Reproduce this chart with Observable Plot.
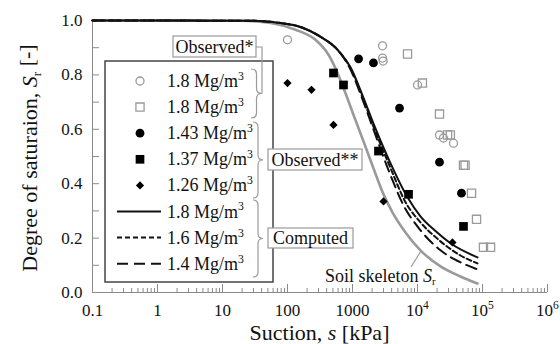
<!DOCTYPE html>
<html><head><meta charset="utf-8">
<script src="https://cdn.jsdelivr.net/npm/d3@7"></script>
<script src="https://cdn.jsdelivr.net/npm/@observablehq/plot@0.6"></script>
<style>
body{margin:0;background:#fff}
#chart svg, #chart svg text{font-family:"Liberation Serif","Times New Roman",serif;}
</style></head><body><div id="chart"></div>
<script>
// ---------- axis ticks ----------
const xTicks = [0.1, 1, 10, 100, 1000, 1e4, 1e5, 1e6];
const xTickLabels = ["0.1", "1", "10", "100", "1000", "10^4", "10^5", "10^6"];
const yTicks = [0, 0.2, 0.4, 0.6, 0.8, 1.0];
const yMinorTicks = [0, 0.1, 0.2, 0.3, 0.4, 0.5, 0.6, 0.7, 0.8, 0.9, 1.0];

// ---------- legend labels ----------
const legendLabels = ["1.8 Mg/m^3", "1.8 Mg/m^3", "1.43 Mg/m^3", "1.37 Mg/m^3", "1.26 Mg/m^3", "1.8 Mg/m^3", "1.6 Mg/m^3", "1.4 Mg/m^3"];
const groupLabels = ["Observed*", "Observed**", "Computed"];

// ---------- observed data (suction kPa, Sr) ----------
const obsOpenCircleS  = [100, 2900, 2900, 2960, 10000, 21800, 25100, 35800];
const obsOpenCircleSr = [0.929, 0.907, 0.862, 0.851, 0.763, 0.579, 0.568, 0.549];

const obsOpenSquareS  = [7020, 11900, 21800, 29000, 32000, 51000, 54000, 67800, 80900, 103500, 133000];
const obsOpenSquareSr = [0.877, 0.770, 0.656, 0.579, 0.579, 0.468, 0.468, 0.365, 0.269, 0.166, 0.166];

const obs143S  = [1240, 2100, 5290, 21800, 47500];
const obs143Sr = [0.859, 0.844, 0.678, 0.479, 0.365];

const obs137S  = [510, 727, 2510, 7280, 51000];
const obs137Sr = [0.807, 0.763, 0.520, 0.361, 0.243];

const obs126S  = [100, 234, 510, 3000, 34500];
const obs126Sr = [0.770, 0.745, 0.616, 0.335, 0.184];

// ---------- computed curves ----------
const comp18S  = [0.1, 27, 78, 158, 324, 590, 940, 1420, 2090, 3850, 7020, 11100, 19100, 32200, 83800];
const comp18Sr = [1.0, 0.999, 0.991, 0.976, 0.940, 0.892, 0.826, 0.726, 0.623, 0.475, 0.350, 0.280, 0.225, 0.181, 0.129];

const comp16S  = [0.1, 27, 78, 158, 324, 590, 940, 1420, 2090, 3850, 6540, 11100, 22600, 45900, 83800];
const comp16Sr = [1.0, 0.999, 0.991, 0.976, 0.940, 0.892, 0.822, 0.719, 0.612, 0.457, 0.332, 0.258, 0.188, 0.136, 0.107];

const comp14S  = [0.1, 27, 78, 158, 324, 590, 940, 1420, 2090, 3580, 6090, 11100, 22600, 45900, 83800];
const comp14Sr = [1.0, 0.999, 0.991, 0.976, 0.940, 0.892, 0.818, 0.711, 0.601, 0.450, 0.321, 0.229, 0.155, 0.111, 0.085];

const skelS  = [0.1, 19, 55, 133, 270, 428, 588, 727, 1110, 1530, 2100, 2900, 4120, 6540, 11100, 22600, 45900, 83800];
const skelSr = [1.0, 0.999, 0.991, 0.966, 0.929, 0.874, 0.807, 0.752, 0.634, 0.546, 0.457, 0.369, 0.295, 0.221, 0.155, 0.096, 0.059, 0.033];

// ---------- build tables ----------
const zip = (xs, ys) => xs.map((s, i) => ({s, Sr: ys[i]}));
const openCircles = zip(obsOpenCircleS, obsOpenCircleSr);
const openSquares = zip(obsOpenSquareS, obsOpenSquareSr);
const dots143 = zip(obs143S, obs143Sr);
const dots137 = zip(obs137S, obs137Sr);
const dots126 = zip(obs126S, obs126Sr);
const c18 = zip(comp18S, comp18Sr);
const c16 = zip(comp16S, comp16Sr);
const c14 = zip(comp14S, comp14Sr);
const skel = zip(skelS, skelSr);

const xMinor = [];
for (let e = -1; e < 6; e++) for (let k = 2; k <= 9; k++) xMinor.push(k * Math.pow(10, e));

const W = 560, H = 344, mL = 92, mR = 13, mT = 20, mB = 52;
const innerW = W - mL - mR, innerH = H - mT - mB;
const GRAY = "#9a9a9a", AX = "#8a8a8a";
const FONT = "'Liberation Serif', 'Times New Roman', serif";

const R = {openC: 4, openSq: 4.6, fillC: 4.4, fillSq: 4.9, dia: 3.7};

const plot = Plot.plot({
  width: W, height: H,
  marginLeft: mL, marginRight: mR, marginTop: mT, marginBottom: mB,
  style: {fontFamily: FONT, fontSize: "17px", color: "#111", background: "#fff", overflow: "visible"},
  x: {type: "log", domain: [0.1, 1e6]},
  y: {domain: [0, 1]},
  marks: [
    Plot.ruleY([0], {stroke: AX, strokeWidth: 1}),
    Plot.ruleX([0.1], {stroke: AX, strokeWidth: 1}),
    Plot.ruleX(xMinor, {stroke: AX, strokeWidth: 1, insetTop: innerH - 4}),
    Plot.ruleX(xTicks, {stroke: AX, strokeWidth: 1, insetTop: innerH - 8}),
    Plot.ruleY(yMinorTicks, {stroke: AX, strokeWidth: 1, insetRight: innerW - 7}),
    Plot.axisX(xTicks, {tickSize: 0, tickPadding: 11, label: null, fontSize: 17, fontFamily: FONT,
      tickFormat: d => xTickLabels[xTicks.indexOf(d)]}),
    Plot.axisY(yTicks, {tickSize: 0, tickPadding: 10, label: null, fontSize: 17, fontFamily: FONT,
      tickFormat: d => d.toFixed(1)}),
    Plot.line(skel, {x: "s", y: "Sr", stroke: GRAY, strokeWidth: 2.6, curve: "monotone-x"}),
    Plot.line(c14, {x: "s", y: "Sr", stroke: "#111", strokeWidth: 2, strokeDasharray: "11,6", curve: "monotone-x"}),
    Plot.line(c16, {x: "s", y: "Sr", stroke: "#111", strokeWidth: 2, strokeDasharray: "5,3", curve: "monotone-x"}),
    Plot.line(c18, {x: "s", y: "Sr", stroke: "#111", strokeWidth: 2, curve: "monotone-x"}),
    Plot.dot(openCircles, {x: "s", y: "Sr", r: R.openC, stroke: GRAY, fill: "white", fillOpacity: 0, strokeWidth: 1.3}),
    Plot.dot(openSquares, {x: "s", y: "Sr", r: R.openSq, symbol: "square", stroke: GRAY, fill: "white", fillOpacity: 0, strokeWidth: 1.3}),
    Plot.dot(dots143, {x: "s", y: "Sr", r: R.fillC, fill: "#000", stroke: "none"}),
    Plot.dot(dots137, {x: "s", y: "Sr", r: R.fillSq, symbol: "square", fill: "#000", stroke: "none"}),
    Plot.dot(dots126, {x: "s", y: "Sr", r: R.dia, symbol: "diamond2", fill: "#000", stroke: "none"})
  ]
});
document.getElementById("chart").appendChild(plot);

const svg = d3.select(plot);

// helper: write "base^exp" as text with a raised tspan
function writeSup(sel, label, supSize, supDy) {
  const m = /^(.*)\^(\d)$/.exec(label);
  if (!m) { sel.text(label); return; }
  sel.text(m[1]);
  sel.append("tspan").attr("dy", supDy).attr("font-size", supSize).text(m[2]);
}

svg.selectAll("text").each(function() {
  const t = this.textContent;
  if (/^10\^\d$/.test(t)) writeSup(d3.select(this), t, "0.68em", "-0.55em");
});

const g = svg.append("g").attr("font-family", FONT).attr("fill", "#111");

const xt = g.append("text").attr("x", (mL + W - mR) / 2).attr("y", 340)
  .attr("text-anchor", "middle").attr("font-size", 22);
xt.append("tspan").text("Suction, ");
xt.append("tspan").attr("font-style", "italic").text("s");
xt.append("tspan").text(" [kPa]");

const yt = g.append("text").attr("transform", "translate(37,158) rotate(-90)")
  .attr("text-anchor", "middle").attr("font-size", 22);
yt.append("tspan").text("Degree of saturaion, ");
yt.append("tspan").attr("font-style", "italic").text("S");
yt.append("tspan").attr("dy", "0.3em").attr("font-size", "0.6em").text("r");
yt.append("tspan").attr("dy", "-0.3em").text(" [-]");

const lg = svg.append("g").attr("font-family", FONT).attr("text-anchor", "start");
lg.append("rect").attr("x", 105).attr("y", 61).attr("width", 168).attr("height", 221)
  .attr("fill", "white").attr("stroke", "#444").attr("stroke-width", 1.5);

const rowY = i => 81 + 26.1 * i;
const symX = 140;
const sym = (type, r) => d3.symbol(type, Math.PI * r * r)();
lg.append("path").attr("d", sym(d3.symbolCircle, R.openC)).attr("transform", `translate(${symX},${rowY(0)})`)
  .attr("fill", "none").attr("stroke", GRAY).attr("stroke-width", 1.3);
lg.append("path").attr("d", sym(d3.symbolSquare, R.openSq)).attr("transform", `translate(${symX},${rowY(1)})`)
  .attr("fill", "none").attr("stroke", GRAY).attr("stroke-width", 1.3);
lg.append("path").attr("d", sym(d3.symbolCircle, R.fillC)).attr("transform", `translate(${symX},${rowY(2)})`)
  .attr("fill", "#000");
lg.append("path").attr("d", sym(d3.symbolSquare, R.fillSq)).attr("transform", `translate(${symX},${rowY(3)})`)
  .attr("fill", "#000");
lg.append("path").attr("d", sym(d3.symbolDiamond2, R.dia)).attr("transform", `translate(${symX},${rowY(4)})`)
  .attr("fill", "#000");
const dashes = [null, "5,3", "11,6"];
for (let k = 0; k < 3; k++) {
  const l = lg.append("line").attr("x1", 117).attr("x2", 161).attr("y1", rowY(5 + k)).attr("y2", rowY(5 + k))
    .attr("stroke", "#111").attr("stroke-width", 2);
  if (dashes[k]) l.attr("stroke-dasharray", dashes[k]);
}
legendLabels.forEach((t, i) => {
  const tx = lg.append("text").attr("x", 167).attr("y", rowY(i) + 6).attr("font-size", 18).attr("fill", "#111")
    .attr("text-anchor", "start");
  writeSup(tx, t, "0.65em", "-0.6em");
});

function brace(x, y0, y1, w) {
  const ym = (y0 + y1) / 2, h = w / 2, r = 5;
  return `M${x},${y0} Q${x + h},${y0} ${x + h},${y0 + r} L${x + h},${ym - r} Q${x + h},${ym} ${x + w},${ym} ` +
         `Q${x + h},${ym} ${x + h},${ym + r} L${x + h},${y1 - r} Q${x + h},${y1} ${x},${y1}`;
}
const br = svg.append("g").attr("fill", "none").attr("stroke", GRAY).attr("stroke-width", 1.2);
br.append("path").attr("d", brace(251, 69, 118, 11));
br.append("path").attr("d", brace(253, 122, 198, 10));
br.append("path").attr("d", brace(253, 200, 277, 10));
br.append("path").attr("d", "M256,47 L262,47 L262,93.5");

const boxes = [
  {x: 173, y: 36, w: 83, h: 21},
  {x: 268, y: 149, w: 94, h: 21},
  {x: 268, y: 228, w: 85, h: 20}
];
boxes.forEach((b, i) => {
  lg.append("rect").attr("x", b.x).attr("y", b.y).attr("width", b.w).attr("height", b.h)
    .attr("fill", "white").attr("stroke", GRAY).attr("stroke-width", 1.2);
  lg.append("text").attr("x", b.x + b.w / 2).attr("y", b.y + b.h / 2 + 6).attr("text-anchor", "middle")
    .attr("font-size", 18).attr("fill", "#111").text(groupLabels[i]);
});

const sk = lg.append("text").attr("x", 325).attr("y", 282).attr("font-size", 18).attr("fill", "#111")
  .attr("text-anchor", "start");
sk.append("tspan").text("Soil skeleton ");
sk.append("tspan").attr("font-style", "italic").text("S");
sk.append("tspan").attr("dy", "0.3em").attr("font-size", "0.6em").text("r");
lg.append("line").attr("x1", 411).attr("y1", 267).attr("x2", 421).attr("y2", 251)
  .attr("stroke", GRAY).attr("stroke-width", 1.2);
</script>
</body></html>
